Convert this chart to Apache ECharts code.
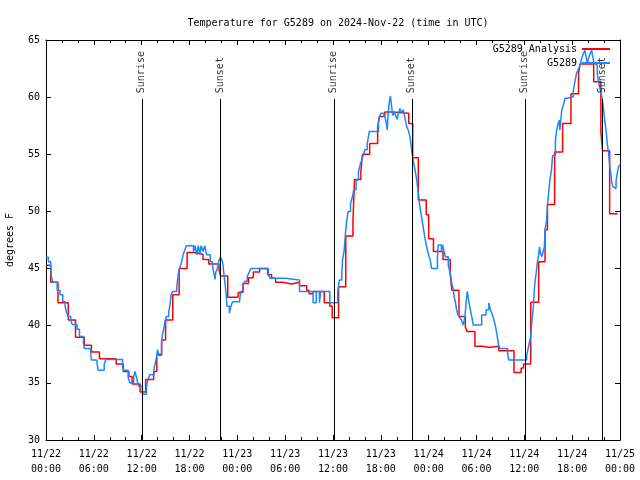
<!DOCTYPE html>
<html>
<head>
<meta charset="utf-8">
<script src="https://cdn.jsdelivr.net/npm/echarts@6/dist/echarts.min.js"></script>
<style>
html,body{margin:0;padding:0;background:#fff;}
#chart{width:640px;height:480px;}
</style>
</head>
<body>
<div id="chart"></div>
<script>
// Hours since 2024-11-22 00:00 UTC
const anaHours = [0,0.6,1.5,2.8,3.7,4.8,5.7,6.7,8.8,9.7,10.4,10.8,11.8,12.5,13.5,13.9,14.5,15.0,15.9,16.7,17.7,18.6,19.7,20.4,21.7,21.9,22.8,24.1,24.7,25.4,26.0,26.8,27.8,28.3,28.8,29.7,30.8,31.8,32.7,33.0,33.5,34.9,35.6,35.9,36.7,37.6,38.5,38.7,39.5,39.7,40.6,41.6,41.8,42.5,43.4,45.5,46.0,46.7,47.7,48.0,48.6,49.8,50.7,50.9,51.8,52.6,52.8,53.8,54.8,55.6,56.8,58.7,59.6,59.9,60.8,61.8,62.6,62.9,63.8,64.8,65.85,66.8,67.0,68.7,69.6,69.8,70.7,71.7];
const anaTemps = [45.3,43.8,42.0,40.5,39.0,38.3,37.7,37.1,36.65,36.0,35.55,34.9,34.2,35.3,36.0,37.5,38.75,40.5,42.7,45.0,46.4,46.25,45.8,45.4,44.9,44.35,42.5,42.9,43.7,44.2,44.7,45.0,44.45,44.15,43.8,43.65,43.8,43.5,43.1,42.8,43.0,42.0,41.7,40.7,43.4,47.85,49.1,52.8,53.5,55.0,55.95,57.3,58.3,58.7,58.6,57.7,54.7,51.0,49.7,47.6,46.5,45.8,44.6,43.1,40.8,39.9,39.5,38.2,38.1,38.2,37.8,35.9,36.3,36.65,42.05,45.6,48.4,50.6,55.2,57.7,60.3,62.1,62.9,61.35,57.0,55.3,49.8,49.8];

const obsHours = [0,0.3,0.6,0.7,0.85,1.4,1.75,2.1,2.4,2.6,2.8,3.1,3.3,3.9,4.2,4.7,4.8,5.6,5.7,6.4,6.55,7.3,7.5,9.6,9.7,10.3,10.5,11.0,11.15,11.35,11.6,12.1,12.6,12.8,13.0,13.55,13.7,13.9,14.0,14.15,14.5,14.6,14.8,14.9,15.1,15.4,15.55,15.7,15.9,16.4,16.5,16.6,16.8,17.0,17.2,17.4,17.6,18.5,18.7,18.9,19.1,19.3,19.45,19.7,19.9,20.15,20.6,20.9,21.05,21.2,21.3,21.5,21.7,21.9,22.15,22.3,22.5,22.6,22.7,23.0,23.2,23.4,24.3,24.4,24.75,24.95,25.25,25.5,25.7,27.9,28.1,30.0,31.8,33.5,33.9,34.3,34.45,35.6,36.6,36.8,37.1,37.2,37.4,37.5,37.6,37.7,37.9,38.2,38.45,38.6,38.9,39.2,39.4,39.6,39.8,40.0,40.3,40.55,41.7,41.8,42.0,42.3,42.5,42.7,42.8,42.9,43.05,43.2,43.35,43.5,43.65,43.9,44.05,44.2,44.4,44.6,44.8,45.0,45.25,45.45,45.65,45.85,46.05,46.3,46.5,46.7,46.9,47.1,47.3,47.5,47.7,47.95,48.2,48.37,49.1,49.2,49.6,49.75,49.9,50.1,50.45,50.7,50.9,51.1,51.2,51.35,51.5,51.7,51.9,52.1,52.35,52.55,52.7,52.85,52.95,53.2,53.4,53.6,54.65,55.2,55.55,55.75,56.0,56.2,56.4,56.6,56.75,56.9,57.9,58.05,60.3,60.45,60.6,60.8,60.95,61.1,61.2,61.3,61.5,61.65,61.8,61.9,62.05,62.2,62.4,62.5,62.6,62.8,62.9,63.05,63.2,63.4,63.55,63.9,64.05,64.25,64.4,64.45,64.55,64.7,64.9,65.1,65.4,66.15,66.35,66.55,66.75,67.0,67.2,67.4,67.6,67.75,67.9,68.0,68.25,68.45,68.6,68.75,69.0,69.15,69.3,69.55,69.75,69.9,70.05,70.25,70.4,70.6,70.7,70.85,70.95,71.1,71.25,71.5,71.65,71.8,71.95];
const obsTemps = [46.0,45.6,44.9,44.2,43.8,43.1,42.7,42.1,41.7,41.1,40.8,40.5,40.1,39.7,39.05,38.5,38.0,37.7,37.0,36.7,36.1,36.6,37.05,36.6,36.1,35.5,35.0,35.5,36.0,35.5,34.7,34.0,34.7,35.3,35.7,36.3,36.7,37.4,37.9,37.4,38.5,39.2,39.8,40.3,40.8,41.2,41.8,42.7,43.0,43.4,44.0,44.6,45.1,45.6,46.2,46.6,47.0,46.5,47.0,46.2,47.0,46.2,47.0,46.5,47.0,46.2,45.6,45.2,44.6,44.05,44.7,45.0,45.7,46.0,45.6,44.6,43.4,42.7,41.7,41.1,41.7,42.1,42.3,43.0,43.6,43.9,44.3,44.7,45.0,44.45,44.15,44.0,43.0,42.0,43.0,42.0,43.0,42.0,43.0,44.0,44.6,45.75,46.6,47.5,48.4,49.1,50.0,50.7,51.3,51.9,52.75,53.5,54.06,54.5,54.9,55.4,55.96,57.0,57.7,58.15,58.6,58.75,58.3,57.7,57.1,58.3,59.5,60.1,59.2,58.4,58.75,58.3,58.06,58.6,59.0,58.6,58.9,58.3,57.4,57.1,56.54,55.4,54.5,53.6,52.75,51.6,50.4,49.54,48.7,47.8,47.06,46.3,45.75,45.0,46.0,47.06,46.5,47.06,46.6,46.04,45.3,44.6,43.7,43.1,42.5,42.1,41.4,40.94,40.7,40.5,40.06,40.8,42.1,43.0,42.5,41.5,40.8,40.06,40.94,41.4,42.0,41.4,40.94,40.5,39.9,39.04,38.4,38.0,37.6,37.0,37.4,37.9,38.4,39.04,40.35,41.4,42.5,43.6,44.7,45.6,46.2,46.9,46.3,46.04,46.6,46.8,48.4,49.25,50.56,51.6,52.75,53.6,54.9,56.25,57.1,57.7,58.0,57.1,57.8,58.9,59.3,59.9,60.04,60.6,61.35,62.1,62.4,62.8,63.4,63.8,64.1,63.5,62.96,63.3,63.8,64.1,63.5,62.96,62.8,62.1,61.35,60.6,59.9,59.2,58.15,57.1,55.96,54.9,54.06,53.3,52.6,52.17,52.0,52.6,53.3,53.9,54.06];

const eventHours = [12.08, 21.88, 36.15, 45.93, 60.13, 69.83];
const eventNames = ['Sunrise','Sunset','Sunrise','Sunset','Sunrise','Sunset'];

const xTickLabels = ['11/22\n00:00','11/22\n06:00','11/22\n12:00','11/22\n18:00','11/23\n00:00','11/23\n06:00','11/23\n12:00','11/23\n18:00','11/24\n00:00','11/24\n06:00','11/24\n12:00','11/24\n18:00','11/25\n00:00'];

const FONT = 'DejaVu Sans Mono';
const BLUE = '#1a86ff';
const RED = '#ff0000';

const anaData = anaHours.map((h,i)=>[h, anaTemps[i]]);
const obsData = obsHours.map((h,i)=>[h, obsTemps[i]]);
const eventData = eventHours.map((h,i)=>[h, 60.3, eventNames[i]]);

const chart = echarts.init(document.getElementById('chart'), null, {renderer:'canvas'});
const tickStyle = {color:'#000', width:1};
const baseX = {
  type:'value', min:0, max:72, interval:6,
  axisLine:{show:true, onZero:false, lineStyle:tickStyle},
  axisTick:{show:true, inside:true, length:5, lineStyle:tickStyle},
  minorTick:{show:true, splitNumber:3, length:3, lineStyle:tickStyle},
  splitLine:{show:false}
};
const baseY = {
  type:'value', min:30, max:65, interval:5,
  axisLine:{show:true, onZero:false, lineStyle:tickStyle},
  axisTick:{show:true, inside:true, length:5, lineStyle:tickStyle},
  splitLine:{show:false}
};
const legendText = {fontFamily:FONT, fontSize:10, color:'#000'};
chart.setOption({
  animation:false,
  backgroundColor:'#fff',
  textStyle:{fontFamily:FONT, fontSize:10, color:'#000'},
  title:{
    text:'Temperature for G5289 on 2024-Nov-22 (time in UTC)',
    left:333, textAlign:'center', top:13,
    textStyle:{fontFamily:FONT, fontSize:10, fontWeight:'normal', color:'#000'}
  },
  legend:[
    {data:['G5289 Analysis'], orient:'vertical', right:30, top:44, align:'right', padding:0,
     icon:'rect', itemWidth:28, itemHeight:2, itemGap:6, textStyle:legendText},
    {data:['G5289'], orient:'vertical', right:30, top:58, align:'right', padding:0,
     icon:'rect', itemWidth:28, itemHeight:2, itemGap:6, textStyle:legendText}
  ],
  grid:{left:46, right:20, top:40, bottom:40, containLabel:false, outerBoundsMode:'none'},
  xAxis:[
    Object.assign({}, baseX, {position:'bottom',
      axisLabel:{show:true, margin:7, lineHeight:15, fontFamily:FONT, fontSize:10, color:'#000',
        formatter:(v)=>xTickLabels[Math.round(v/6)]}}),
    Object.assign({}, baseX, {position:'top', axisLabel:{show:false}})
  ],
  yAxis:[
    Object.assign({}, baseY, {position:'left',
      name:'degrees F', nameLocation:'middle', nameGap:31,
      nameTextStyle:{fontFamily:FONT, fontSize:10, color:'#000'},
      axisLabel:{show:true, margin:6, fontFamily:FONT, fontSize:10, color:'#000'}}),
    Object.assign({}, baseY, {position:'right', axisLabel:{show:false}})
  ],
  series:[
    {name:'G5289 Analysis', type:'line', step:'end', data:anaData, showSymbol:false,
     lineStyle:{color:RED, width:1.5}, itemStyle:{color:RED}, z:3},
    {name:'G5289', type:'line', step:'end', data:obsData, showSymbol:false,
     lineStyle:{color:BLUE, width:1.5}, itemStyle:{color:BLUE}, z:4},
    {name:'events', type:'scatter', data:eventData, symbolSize:1,
     itemStyle:{color:'rgba(0,0,0,0)'}, z:5, silent:true,
     label:{show:true, position:[0,0], rotate:90, align:'left', verticalAlign:'middle',
       fontFamily:FONT, fontSize:10, color:'#000', formatter:(p)=>p.value[2]},
     markLine:{silent:true, symbol:['none','none'], label:{show:false},
       lineStyle:{color:'#000', width:1, type:'solid'},
       data: eventHours.map(h=>[{coord:[h,59.85]},{coord:[h,30]}])}
    }
  ]
});
</script>
</body>
</html>
